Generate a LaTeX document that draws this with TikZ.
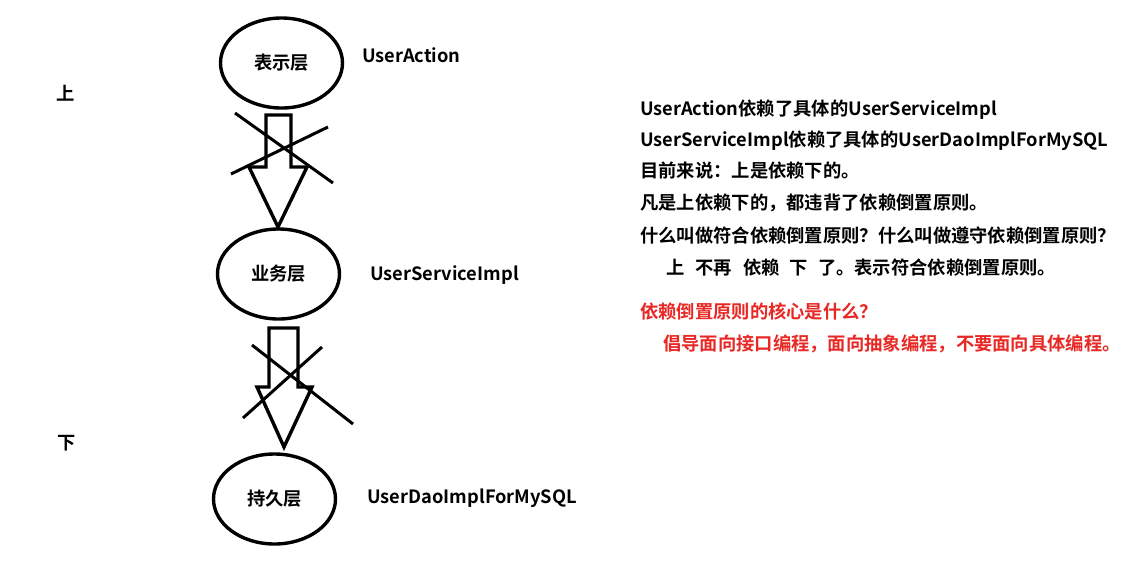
\documentclass[tikz,border=0pt]{standalone}
\usepackage{fontspec}
\setmainfont{Noto Sans CJK SC}[BoldFont={* Bold}]
\usetikzlibrary{shapes.geometric}
\definecolor{redtxt}{RGB}{232,40,36}
\begin{document}
\begin{tikzpicture}[x=1pt,y=-1pt,
  layer/.style={draw,line width=3.4pt,ellipse,minimum width=122pt,minimum height=90pt,inner sep=0pt,font=\fontsize{18.3}{22}\selectfont\bfseries},
  lbl/.style={anchor=west,inner sep=0pt,font=\fontsize{18.3}{22}\selectfont\bfseries},
  side/.style={inner sep=0pt,font=\fontsize{18.3}{22}\selectfont\bfseries},
  blockarrow/.style={draw,line width=3.4pt,line join=miter,fill=white},
  crossline/.style={draw,line width=3pt}]
\useasboundingbox[fill=white] (0,0) rectangle (1138,566);

% layers
\node[layer] (L1) at (281.5,63) {表示层};
\node[layer] (L2) at (278.5,274) {业务层};
\node[layer] (L3) at (274.5,499) {持久层};

% class labels
\node[lbl] (c1) at (362,55) {UserAction};
\node[lbl] (c2) at (370,275) {UserServiceImpl};
\node[lbl] (c3) at (367,498) {UserDaoImplForMySQL};

% up / down
\node[side] (up) at (66,93) {上};
\node[side] (down) at (67,443) {下};

% block arrows (crossed out)
\draw[blockarrow] (266,115) -- (291,115) -- (291,167) -- (307,167) -- (278,227) -- (249,167) -- (266,167) -- cycle;
\draw[crossline] (235,113) -- (333,183);
\draw[crossline] (231,174) -- (328,127);

\draw[blockarrow] (269,328) -- (298,328) -- (298,387) -- (312,387) -- (284,447) -- (257,387) -- (269,387) -- cycle;
\draw[crossline] (252,345) -- (353,424);
\draw[crossline] (243,418) -- (322,347);

% explanation text
\node[lbl] (t1) at (640,110) {UserAction依赖了具体的UserServiceImpl};
\node[lbl] (t2) at (640,141) {UserServiceImpl依赖了具体的UserDaoImplForMySQL};
\node[lbl] (t3) at (640,171) {目前来说：上是依赖下的。};
\node[lbl] (t4) at (640,203) {凡是上依赖下的，都违背了依赖倒置原则。};
\node[lbl] (t5) at (640,236) {什么叫做符合依赖倒置原则？什么叫做遵守依赖倒置原则？};
\node[lbl] (t6) at (666,268) {上\hspace{11pt}不再\hspace{11pt}依赖\hspace{10pt}下\hspace{10pt}了。表示符合依赖倒置原则。};
\node[lbl,text=redtxt] (t7) at (640,312) {依赖倒置原则的核心是什么？};
\node[lbl,text=redtxt] (t8) at (663,344) {倡导面向接口编程，面向抽象编程，不要面向具体编程。};
\end{tikzpicture}
\end{document}
